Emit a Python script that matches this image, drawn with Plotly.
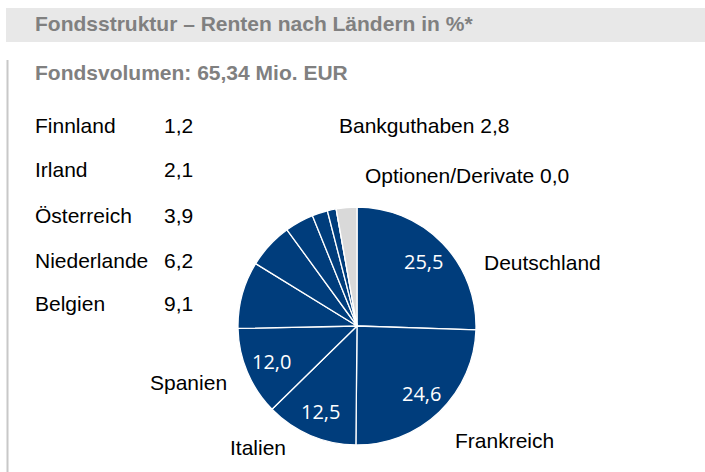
import math
import plotly.graph_objects as go

W, H = 705, 472

categories = ["Deutschland", "Frankreich", "Italien", "Spanien", "Belgien",
              "Niederlande", "Österreich", "Irland", "Finnland",
              "Optionen/Derivate", "Bankguthaben"]
values = [25.5, 24.6, 12.5, 12.0, 9.1, 6.2, 3.9, 2.1, 1.2, 0.0, 2.8]
inside_shown = ["Deutschland", "Frankreich", "Italien", "Spanien"]
list_left = ["Finnland", "Irland", "Österreich", "Niederlande", "Belgien"]

title = "Fondsstruktur – Renten nach Ländern in %*"
subtitle = "Fondsvolumen: 65,34 Mio. EUR"

BLUE = "#003d7c"
GRAY = "#d9d9d9"


def fmt(v):
    return f"{v:.1f}".replace(".", ",")


colors = [GRAY if c == "Bankguthaben" else BLUE for c in categories]

# pie geometry in pixels
cx, cy, r = 357, 326, 119

fig = go.Figure(go.Pie(
    labels=categories,
    values=values,
    sort=False,
    direction="clockwise",
    rotation=0,
    marker=dict(colors=colors, line=dict(color="white", width=1.3)),
    textinfo="none",
    hoverinfo="label+value",
    showlegend=False,
    domain=dict(x=[(cx - r) / W, (cx + r) / W],
                y=[(H - cy - r) / H, (H - cy + r) / H]),
))

anns = []


def px_ann(text, x, y, size=21, color="black", bold=False, anchor="left",
           family="Liberation Sans"):
    anns.append(dict(
        text=f"<b>{text}</b>" if bold else text,
        x=x / W, y=1 - y / H, xref="paper", yref="paper",
        xanchor=anchor, yanchor="middle", showarrow=False,
        font=dict(family=family, size=size, color=color),
    ))


px_ann(title, 33, 24, size=21, color="#808080", bold=True)
px_ann(subtitle, 33, 72, size=21, color="#808080", bold=True)

val = dict(zip(categories, values))
row_y = [125, 170, 215, 260, 303]
for name, y in zip(list_left, row_y):
    px_ann(name, 33, y)
    px_ann(fmt(val[name]), 162, y)

px_ann(f"Bankguthaben {fmt(val['Bankguthaben'])}", 337, 125)
px_ann(f"Optionen/Derivate {fmt(val['Optionen/Derivate'])}", 363, 175)
px_ann("Deutschland", 482, 262)
px_ann("Frankreich", 453, 440)
px_ann("Italien", 228, 447)
px_ann("Spanien", 148, 382)

# value labels inside the large slices, placed at each slice's mid-angle
total = sum(values)
cum = 0.0
for c, v in zip(categories, values):
    mid = (cum + v / 2) / total * 2 * math.pi
    cum += v
    if c in inside_shown:
        rr = 0.78 * r
        px_ann(fmt(v), cx + rr * math.sin(mid), cy - rr * math.cos(mid),
               size=20, color="white", anchor="center", family="Open Sans")

shapes = [
    dict(type="rect", xref="paper", yref="paper", x0=6 / W, x1=1,
         y0=1 - 42 / H, y1=1 - 8 / H,
         fillcolor="#e8e8e8", line=dict(width=0), layer="below"),
    dict(type="line", xref="paper", yref="paper", x0=7.5 / W, x1=7.5 / W,
         y0=0, y1=1 - 60 / H,
         line=dict(color="#c8c8c8", width=2)),
]

fig.update_layout(
    width=W, height=H,
    margin=dict(l=0, r=0, t=0, b=0),
    paper_bgcolor="white", plot_bgcolor="white",
    annotations=anns, shapes=shapes,
    font=dict(family="Liberation Sans"),
)

fig.write_html("out.html",
               config={"displayModeBar": False},
               post_script="document.body.style.margin='0';document.body.style.overflow='hidden';")
